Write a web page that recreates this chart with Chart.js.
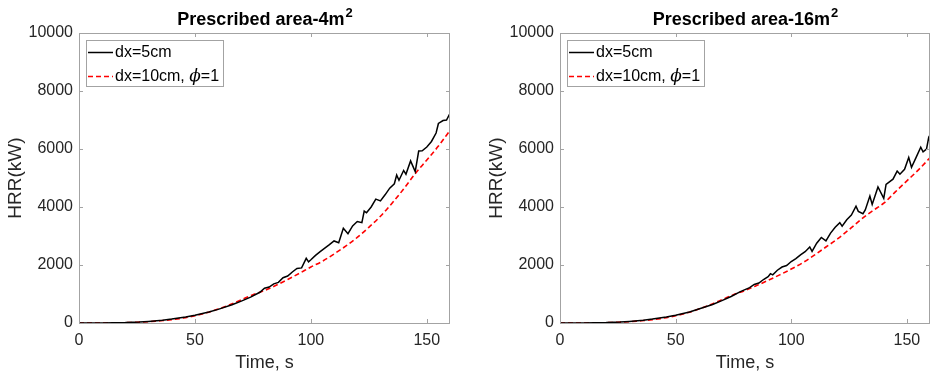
<!DOCTYPE html>
<html>
<head>
<meta charset="utf-8">
<title>HRR - prescribed area</title>
<script src="https://cdn.jsdelivr.net/npm/chart.js@4.4.1/dist/chart.umd.min.js"></script>
<style>
  html, body { margin: 0; padding: 0; background: #fff; }
  body { width: 932px; height: 378px; position: relative; overflow: hidden; }
  .panel { position: absolute; top: 0; }
  #panel-4m { left: 0; }
  #panel-16m { left: 481px; }
</style>
</head>
<body>
<div class="panel" id="panel-4m"><canvas id="chart4m" width="465" height="378"></canvas></div>
<div class="panel" id="panel-16m"><canvas id="chart16m" width="451" height="378"></canvas></div>
<script>
const FONT = '"Liberation Sans", Arial, Helvetica, sans-serif';
const PHI = '\u03D5';

const seriesLabels = ['dx=5cm', 'dx=10cm, ' + PHI + '=1'];
const xTicks = [0, 50, 100, 150];
const yTicks = [0, 2000, 4000, 6000, 8000, 10000];

// 4 m2 case, dx=5cm (noisy)
const time4Fine = [0, 10, 20, 26, 30, 36, 40, 46, 50, 56, 60, 66, 70, 74, 78, 80, 82, 84, 86, 88,
  90, 92, 94, 96, 98, 99, 100, 102, 104, 106, 108, 110, 112, 114, 116, 118, 120, 122, 123, 124,
  126, 128, 130, 132, 134, 136, 137, 138, 140, 141, 143, 145, 146.5, 148, 150, 152, 154, 155, 157, 158.5, 160];
const hrr4Fine = [0, 0, 13, 32, 54, 96, 134, 206, 268, 380, 470, 628, 755, 890, 1060, 1200, 1240, 1350, 1400, 1560,
  1620, 1760, 1880, 1900, 2230, 2110, 2180, 2330, 2460, 2580, 2700, 2830, 2770, 3270, 3080, 3350, 3500, 3460, 3860, 3800,
  4000, 4270, 4210, 4420, 4650, 4800, 5100, 4920, 5260, 5130, 5590, 5220, 5930, 5940, 6070, 6260, 6550, 6880, 6980, 7000, 7230];

// dx=10cm runs are sampled every 5 s
const timeCoarse = [0, 5, 10, 15, 20, 25, 30, 35, 40, 45, 50, 55, 60, 65, 70, 75, 80,
  85, 90, 95, 100, 105, 110, 115, 120, 125, 130, 135, 140, 145, 150, 155, 160];
const hrr4Coarse = [0, 0, 1, 4, 12, 24, 45, 75, 115, 170, 250, 350, 480, 630, 800, 975, 1120,
  1300, 1500, 1710, 1930, 2130, 2380, 2650, 2950, 3300, 3680, 4130, 4620, 5150, 5620, 6100, 6640];

// 16 m2 case
const time16Fine = [0, 10, 20, 26, 30, 36, 40, 46, 50, 56, 60, 66, 70, 74, 78, 80, 82, 84, 86, 88,
  90, 91, 92, 94, 96, 98, 100, 102, 104, 106, 108, 109, 111, 113, 115, 117, 119, 121, 122, 124,
  126, 128, 129, 131, 132, 134, 135, 137.5, 140, 141, 144, 145.8, 147, 149, 150.8, 152, 154, 156, 157, 158.5, 159.4, 160];
const hrr16Fine = [0, 1, 13, 32, 54, 96, 134, 206, 268, 380, 480, 640, 770, 915, 1080, 1150, 1220, 1330, 1380, 1500,
  1600, 1700, 1660, 1820, 1930, 1980, 2120, 2220, 2350, 2460, 2620, 2470, 2750, 2950, 2830, 3100, 3300, 3460, 3340, 3560,
  3720, 4030, 3850, 3770, 3900, 4380, 4090, 4690, 4300, 4780, 4960, 5240, 5130, 5300, 5710, 5370, 5710, 6060, 5900, 6000, 6380, 6260];
const hrr16Coarse = [0, 0, 1, 4, 12, 24, 45, 75, 115, 170, 250, 350, 480, 630, 800, 975, 1120,
  1290, 1470, 1660, 1860, 2080, 2340, 2620, 2900, 3220, 3560, 3860, 4130, 4520, 4900, 5280, 5700];

const toPoints = (ts, vs) => ts.map((t, i) => ({ x: t, y: vs[i] }));

// legend text with the phi set in italic
function drawLabel(ctx, text, x, y) {
  const parts = text.split(PHI);
  ctx.font = '16px ' + FONT;
  ctx.fillText(parts[0], x, y);
  if (parts.length < 2) return;
  x += ctx.measureText(parts[0]).width;
  ctx.font = 'italic 17px "DejaVu Serif", "Liberation Serif", serif';
  ctx.fillText(PHI, x, y);
  x += ctx.measureText(PHI).width;
  ctx.font = '16px ' + FONT;
  ctx.fillText(parts[1], x, y);
}

// box, inward ticks, title with superscript and the boxed legend
const matlabAxes = {
  id: 'matlabAxes',
  afterDraw(chart, args, opts) {
    const { ctx, chartArea: a, scales } = chart;
    ctx.save();

    ctx.strokeStyle = '#a3a3a3';
    ctx.lineWidth = 1;
    ctx.strokeRect(a.left + 0.5, a.top + 0.5, a.right - a.left - 1, a.bottom - a.top);
    ctx.beginPath();
    scales.x.ticks.forEach(t => {
      const px = Math.round(scales.x.getPixelForValue(t.value)) + 0.5;
      ctx.moveTo(px, a.bottom); ctx.lineTo(px, a.bottom - 4);
      ctx.moveTo(px, a.top); ctx.lineTo(px, a.top + 4);
    });
    scales.y.ticks.forEach(t => {
      const py = Math.round(scales.y.getPixelForValue(t.value)) + 0.5;
      ctx.moveTo(a.left, py); ctx.lineTo(a.left + 4, py);
      ctx.moveTo(a.right, py); ctx.lineTo(a.right - 4, py);
    });
    ctx.stroke();

    // title
    ctx.fillStyle = '#000';
    ctx.textBaseline = 'alphabetic';
    ctx.font = 'bold 18px ' + FONT;
    const mainW = ctx.measureText(opts.text).width;
    ctx.font = 'bold 13px ' + FONT;
    const supW = ctx.measureText(opts.sup).width;
    const x0 = (a.left + a.right) / 2 - (mainW + supW) / 2;
    ctx.font = 'bold 18px ' + FONT;
    ctx.textAlign = 'left';
    ctx.fillText(opts.text, x0, 25);
    ctx.font = 'bold 13px ' + FONT;
    ctx.fillText(opts.sup, x0 + mainW + 1, 17);

    // legend
    const lx = a.left + 7, ly = a.top + 7, lw = 137, lh = 46;
    ctx.fillStyle = '#fff';
    ctx.fillRect(lx, ly, lw, lh);
    ctx.strokeStyle = '#a3a3a3';
    ctx.strokeRect(lx + 0.5, ly + 0.5, lw, lh);
    ctx.textBaseline = 'middle';
    chart.data.datasets.forEach((ds, i) => {
      const rowY = ly + 12 + i * 24;
      ctx.strokeStyle = ds.borderColor;
      ctx.lineWidth = ds.borderWidth;
      ctx.setLineDash(ds.borderDash || []);
      ctx.beginPath();
      ctx.moveTo(lx + 2, rowY + 0.5);
      ctx.lineTo(lx + 27, rowY + 0.5);
      ctx.stroke();
      ctx.setLineDash([]);
      ctx.fillStyle = '#000';
      drawLabel(ctx, ds.label, lx + 29, rowY + 1);
    });
    ctx.restore();
  }
};

function buildPanel(canvasId, titleText, fineT, fineV, coarseV, rightPad) {
  const ctx = document.getElementById(canvasId).getContext('2d');
  return new Chart(ctx, {
    type: 'line',
    data: {
      datasets: [{
        label: seriesLabels[0],
        data: toPoints(fineT, fineV),
        borderColor: '#000000',
        borderWidth: 1.5,
        pointRadius: 0,
        tension: 0
      }, {
        label: seriesLabels[1],
        data: toPoints(timeCoarse, coarseV),
        borderColor: '#ff0000',
        borderWidth: 1.6,
        borderDash: [5, 3],
        pointRadius: 0,
        cubicInterpolationMode: 'monotone'
      }]
    },
    options: {
      responsive: false,
      animation: false,
      layout: { padding: { top: 33, right: rightPad, bottom: 0, left: 0 } },
      plugins: {
        legend: { display: false },
        tooltip: { enabled: false },
        title: { display: false },
        matlabAxes: { text: titleText, sup: '2' }
      },
      scales: {
        x: {
          type: 'linear',
          min: 0,
          max: 160,
          afterBuildTicks: s => { s.ticks = xTicks.map(v => ({ value: v })); },
          afterFit: s => { s.height = 55; },
          grid: { display: false, drawTicks: false },
          border: { display: false },
          ticks: { color: '#262626', padding: 8, font: { family: FONT, size: 16 }, maxRotation: 0 },
          title: { display: true, text: 'Time, s', color: '#262626', font: { family: FONT, size: 18 }, padding: { top: 0, bottom: 4 } }
        },
        y: {
          min: 0,
          max: 10000,
          afterBuildTicks: s => { s.ticks = yTicks.map(v => ({ value: v })); },
          afterFit: s => { s.width = 79; },
          grid: { display: false, drawTicks: false },
          border: { display: false },
          ticks: { color: '#262626', padding: 6, font: { family: FONT, size: 16 }, callback: v => String(v) },
          title: { display: true, text: 'HRR(kW)', color: '#262626', font: { family: FONT, size: 19 }, padding: { top: 4, bottom: 0 } }
        }
      }
    },
    plugins: [matlabAxes]
  });
}

buildPanel('chart4m', 'Prescribed area-4m', time4Fine, hrr4Fine, hrr4Coarse, 15);
buildPanel('chart16m', 'Prescribed area-16m', time16Fine, hrr16Fine, hrr16Coarse, 2);
</script>
</body>
</html>
